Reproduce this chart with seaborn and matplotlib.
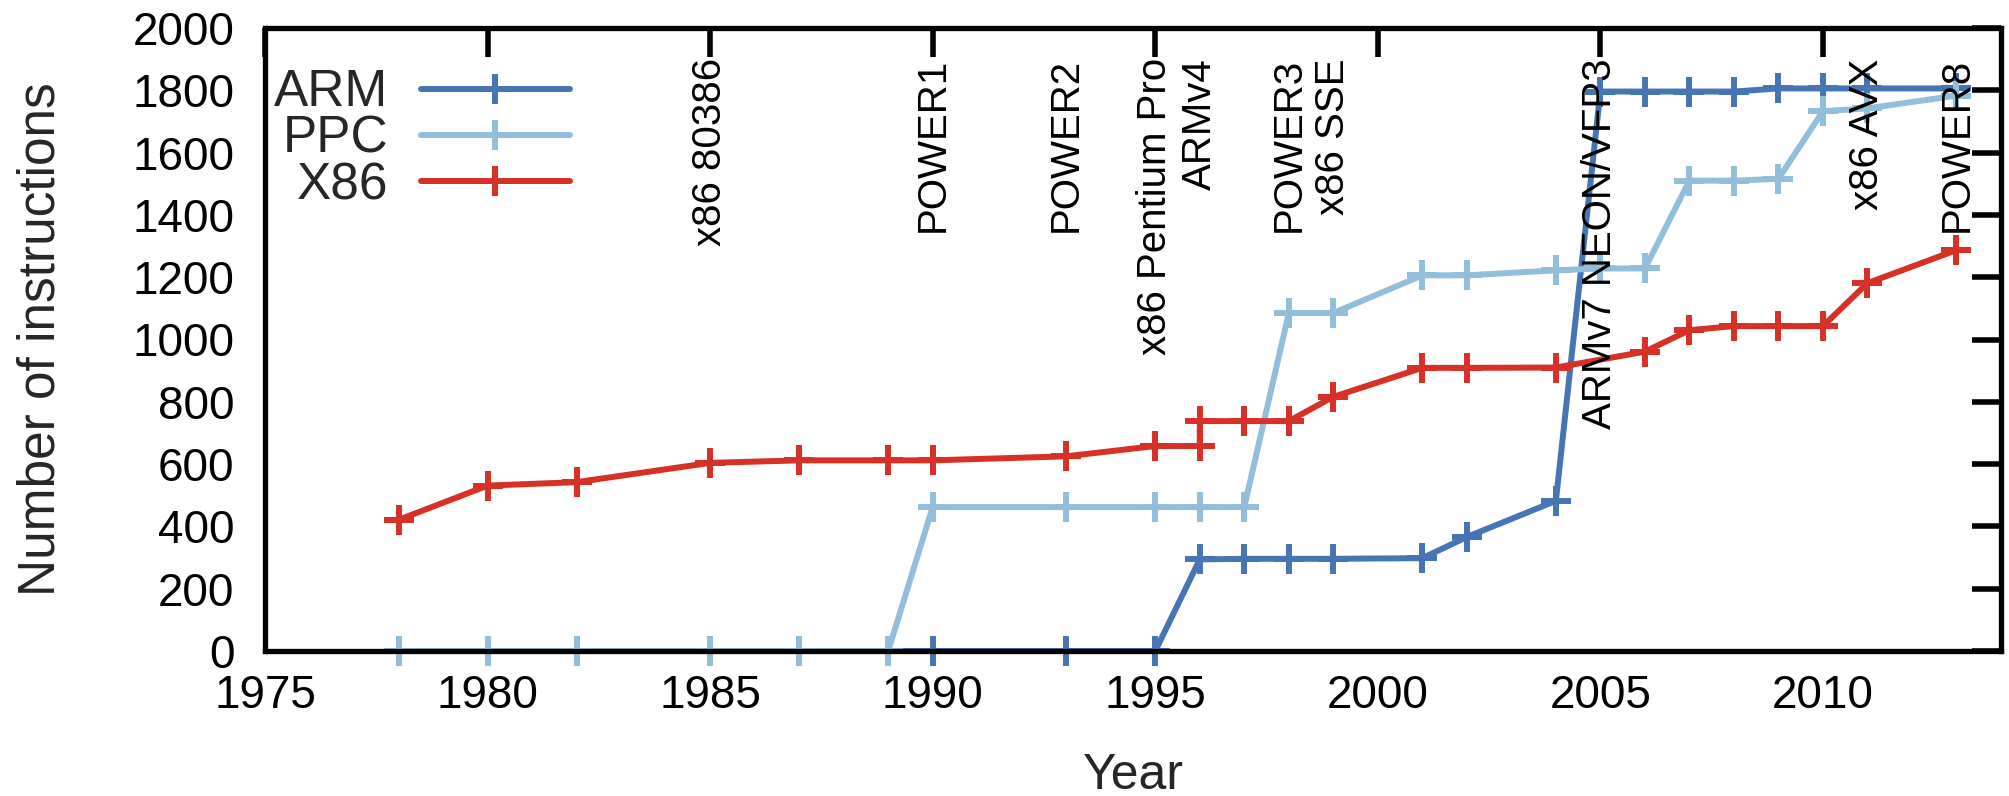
import matplotlib
matplotlib.use("Agg")
import matplotlib.pyplot as plt
import seaborn as sns
import pandas as pd

# ---- data ----
arm_years = [1978, 1980, 1982, 1985, 1987, 1989, 1990, 1993, 1995, 1996, 1997, 1998, 1999,
             2001, 2002, 2004, 2005, 2006, 2007, 2008, 2009, 2010, 2011, 2013]
arm_vals = [0, 0, 0, 0, 0, 0, 0, 0, 0, 294, 296, 296, 296,
            298, 366, 482, 1796, 1796, 1796, 1796, 1806, 1806, 1806, 1806]

ppc_years = [1978, 1980, 1982, 1985, 1987, 1989, 1990, 1993, 1995, 1996, 1997, 1998, 1999,
             2001, 2002, 2004, 2005, 2006, 2007, 2008, 2009, 2010, 2011, 2013]
ppc_vals = [0, 0, 0, 0, 0, 0, 462, 462, 462, 462, 462, 1085, 1085,
            1206, 1206, 1222, 1228, 1228, 1510, 1510, 1516, 1733, 1742, 1783]

x86_years = [1978, 1980, 1982, 1985, 1987, 1989, 1990, 1993, 1995, 1996, 1996, 1997, 1998,
             1999, 2001, 2002, 2004, 2006, 2007, 2008, 2009, 2010, 2011, 2013]
x86_vals = [421, 531, 542, 604, 612, 612, 612, 625, 658, 658, 738, 738, 738,
            816, 909, 909, 910, 961, 1030, 1043, 1043, 1043, 1181, 1287]

series_names = ["ARM", "PPC", "X86"]
series_colors = ["#4575b4", "#91bfdb", "#d73027"]

event_years = [1985, 1990, 1993, 1995, 1996, 1998, 1999, 2005, 2011, 2013]
event_labels = ["x86 80386", "POWER1", "POWER2", "x86 Pentium Pro", "ARMv4",
                "POWER3", "x86 SSE", "ARMv7 NEON/VFP3", "x86 AVX", "POWER8"]

x_ticks = [1975, 1980, 1985, 1990, 1995, 2000, 2005, 2010]
y_ticks = [0, 200, 400, 600, 800, 1000, 1200, 1400, 1600, 1800, 2000]

# ---- style ----
sns.set_style("white")
plt.rcParams["font.family"] = ["Liberation Sans", "DejaVu Sans"]

fig = plt.figure(figsize=(20.09, 7.96), dpi=100)
ax = fig.add_axes([265 / 2009, (796 - 651) / 796, 1736 / 2009, 623 / 796])

all_data = [(arm_years, arm_vals), (ppc_years, ppc_vals), (x86_years, x86_vals)]
for (yrs, vals), name, col in zip(all_data, series_names, series_colors):
    df = pd.DataFrame({"Year": yrs, "Value": vals})
    sns.lineplot(data=df, x="Year", y="Value", ax=ax, estimator=None, sort=False,
                 color=col, linewidth=4.3, marker="+", markersize=21,
                 markeredgewidth=4.3, markeredgecolor=col, markerfacecolor=col,
                 label=name, clip_on=False, zorder=3)

for yr, lab in zip(event_years, event_labels):
    ax.text(yr, 1903, lab, rotation=90, ha="center", va="top",
            fontsize=29, color="black", zorder=5)

ax.set_xlim(1975, 2014)
ax.set_ylim(0, 2000)
ax.set_xticks(x_ticks)
ax.set_yticks(y_ticks)
ax.tick_params(axis="both", which="major", direction="in", length=21, width=4,
               top=True, right=True, labelsize=33, colors="black")
ax.tick_params(axis="x", pad=16.5)
ax.tick_params(axis="y", pad=22)

for sp in ax.spines.values():
    sp.set_visible(True)
    sp.set_linewidth(3.8)
    sp.set_color("black")
    sp.set_zorder(4)

ax.set_xlabel("Year", fontsize=36, labelpad=25)
ax.set_ylabel("Number of instructions", fontsize=37, labelpad=48)

leg = ax.legend(loc="upper left", bbox_to_anchor=(0.005, 0.935), frameon=False,
                markerfirst=False, fontsize=37, handlelength=2.9, handletextpad=0.64,
                labelspacing=-0.05, borderpad=0, borderaxespad=0)

fig.savefig("out.png", dpi=100, facecolor="white")
